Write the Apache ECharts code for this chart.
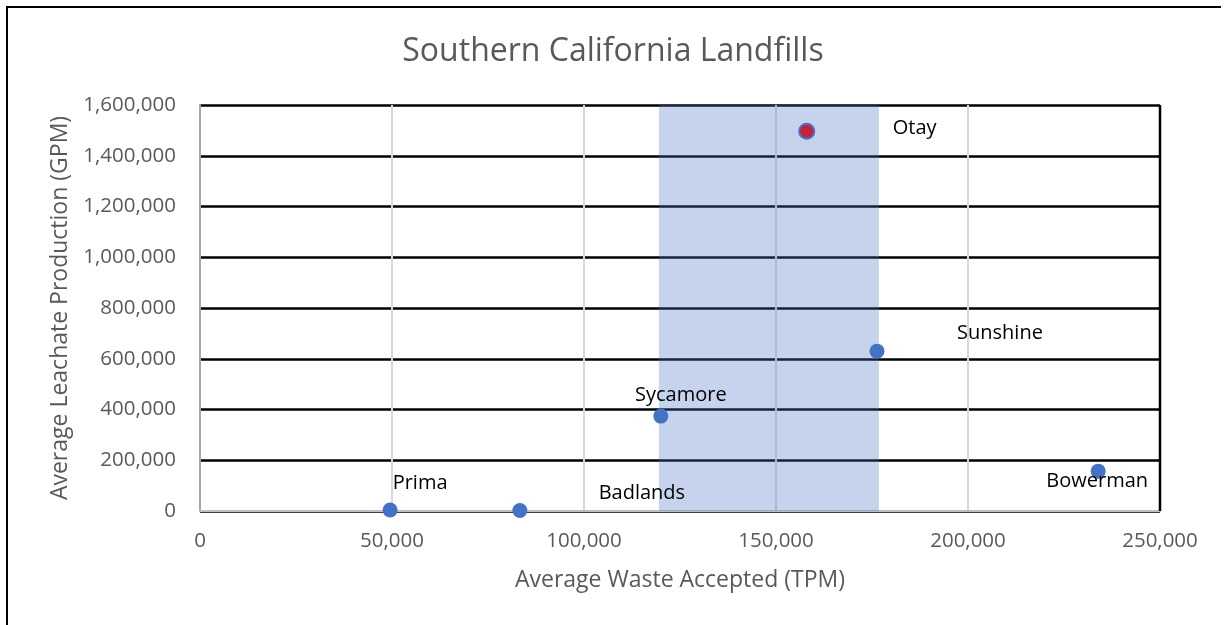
<!DOCTYPE html>
<html lang="en">
<head>
    <meta charset="UTF-8">
    <title>Southern California Landfills</title>
    <script src="https://cdn.jsdelivr.net/npm/echarts@6/dist/echarts.min.js"></script>
    <style>
        html, body { margin: 0; padding: 0; background: #fff; }
        #chart { width: 1226px; height: 625px; }
    </style>
</head>
<body>
<div id="chart"></div>
<script>
    // landfill names and their values (waste in TPM, leachate in GPM)
    var names = ['Prima', 'Badlands', 'Sycamore', 'Otay', 'Sunshine', 'Bowerman'];
    var waste = [49500, 83300, 120000, 158000, 176300, 233900];
    var leachate = [4000, 2000, 374000, 1497000, 630000, 157000];
    // highlighted band on the x axis
    var bandRange = [119500, 176800];

    // label nudges, in pixels from the point
    var labelOffsets = [[30, -27], [122, -17], [20, -21], [108, -3], [123, -18], [-1, 10]];

    var font = 'Open Sans';
    var gray = '#595959';

    var points = names.map(function (n, i) {
        var item = {
            name: n,
            value: [waste[i], leachate[i]],
            label: { offset: labelOffsets[i] }
        };
        if (n === 'Otay') {
            item.itemStyle = { color: '#C8203A', borderColor: '#4472C4', borderWidth: 2 };
        }
        return item;
    });

    var chart = echarts.init(document.getElementById('chart'));
    var option = {
        animation: false,
        title: {
            text: 'Southern California Landfills',
            left: 'center',
            top: 31,
            textStyle: { fontFamily: font, fontSize: 32, fontWeight: 'normal', color: gray }
        },
        graphic: [{
            type: 'polyline',
            shape: { points: [[7, 700], [7, 7], [1221, 7]] },
            style: { stroke: '#000', lineWidth: 2, fill: null }
        }],
        grid: { left: 200, right: 66, top: 105, bottom: 114 },
        xAxis: {
            type: 'value',
            min: 0,
            max: 250000,
            interval: 50000,
            name: 'Average Waste Accepted (TPM)',
            nameLocation: 'middle',
            nameGap: 58,
            nameTextStyle: { fontFamily: font, fontSize: 23, color: gray },
            axisLine: { show: true, lineStyle: { color: '#BFBFBF', width: 2 } },
            axisTick: { show: false },
            axisLabel: {
                fontFamily: font, fontSize: 20.5, color: gray, margin: 20,
                formatter: function (v) { return v.toLocaleString('en-US'); }
            },
            splitLine: { show: true, lineStyle: { color: '#D9D9D9', width: 2 } }
        },
        yAxis: {
            type: 'value',
            min: 0,
            max: 1600000,
            interval: 200000,
            name: 'Average Leachate Production (GPM)',
            nameLocation: 'middle',
            nameGap: 126,
            nameTextStyle: { fontFamily: font, fontSize: 23, color: gray },
            axisLine: { show: true, lineStyle: { color: '#A6A6A6', width: 2 } },
            axisTick: { show: false },
            axisLabel: {
                fontFamily: font, fontSize: 20.5, color: gray, margin: 24,
                formatter: function (v) { return v.toLocaleString('en-US'); }
            },
            splitLine: { show: true, lineStyle: { color: '#000', width: 2.5 } }
        },
        series: [{
            type: 'scatter',
            symbolSize: 15,
            itemStyle: { color: '#4472C4', opacity: 1 },
            label: {
                show: true,
                position: 'inside',
                formatter: '{b}',
                fontFamily: font,
                fontSize: 20,
                color: '#000'
            },
            data: points,
            markArea: {
                silent: true,
                itemStyle: { color: 'rgba(68,114,196,0.31)' },
                data: [[{ xAxis: bandRange[0], yAxis: 0 }, { xAxis: bandRange[1], yAxis: 1600000 }]]
            },
            z: 3
        }, {
            // black frame on the right edge of the plot
            type: 'line',
            data: [[250000, 0], [250000, 1600000]],
            symbol: 'none',
            silent: true,
            lineStyle: { color: '#000', width: 2.5 },
            z: 2
        }]
    };
    chart.setOption(option);
</script>
</body>
</html>
